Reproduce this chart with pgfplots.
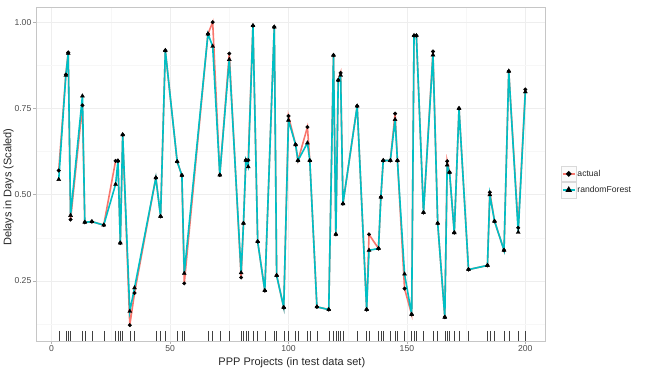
\documentclass[border=0pt]{standalone}
\usepackage{fontspec}
\setmainfont{Liberation Sans}
\usepackage{pgfplots}
\usepackage{pgfplotstable}
\pgfplotsset{compat=1.18}
\definecolor{gred}{HTML}{F8766D}
\definecolor{gteal}{HTML}{00BFC4}

\pgfplotstableread{
x act rf
3 0.570 0.544
6 0.848 0.846
7 0.912 0.910
8 0.428 0.440
13 0.759 0.786
14 0.420 0.420
17 0.422 0.422
22 0.412 0.412
27 0.598 0.530
28 0.598 0.598
29 0.360 0.360
30 0.674 0.674
33 0.122 0.162
35 0.215 0.230
44 0.549 0.549
46 0.437 0.437
48 0.918 0.918
53 0.596 0.596
55 0.556 0.556
56 0.243 0.272
66 0.966 0.966
68 1.000 0.930
71 0.557 0.557
75 0.909 0.892
80 0.260 0.274
81 0.417 0.417
82 0.600 0.600
83 0.600 0.581
85 0.990 0.990
87 0.364 0.364
90 0.222 0.222
94 0.986 0.986
95 0.266 0.266
98 0.173 0.173
100 0.728 0.716
103 0.645 0.645
104 0.599 0.599
108 0.696 0.650
109 0.599 0.599
112 0.175 0.175
117 0.167 0.167
119 0.904 0.904
120 0.385 0.385
121 0.832 0.832
122 0.853 0.846
123 0.474 0.474
129 0.757 0.757
133 0.167 0.167
134 0.385 0.339
138 0.344 0.344
139 0.493 0.493
140 0.599 0.599
143 0.599 0.599
145 0.735 0.718
146 0.599 0.599
149 0.228 0.270
152 0.153 0.153
153 0.961 0.961
154 0.961 0.961
157 0.448 0.448
161 0.915 0.905
163 0.417 0.417
166 0.145 0.145
167 0.597 0.586
168 0.565 0.565
170 0.390 0.390
172 0.750 0.750
176 0.283 0.283
184 0.295 0.295
185 0.507 0.500
187 0.423 0.423
191 0.339 0.339
193 0.858 0.858
197 0.404 0.391
200 0.805 0.798
}\data

\begin{document}
\begin{tikzpicture}
\useasboundingbox (-36pt,-32pt) rectangle (613pt,341pt);
\begin{axis}[
  width=509pt, height=334pt, scale only axis,
  xmin=-6.6, xmax=208.3, ymin=0.076, ymax=1.044,
  xtick={0,50,100,150,200},
  ytick={0.25,0.5,0.75,1.0},
  yticklabels={0.25,0.50,0.75,1.00},
  minor xtick={25,75,125,175},
  minor ytick={0.125,0.375,0.625,0.875},
  grid=both,
  major grid style={gray!13, line width=0.5pt},
  minor grid style={gray!6, line width=0.4pt},
  axis line style={gray!45, line width=0.7pt},
  tick align=outside, xtick pos=bottom, ytick pos=left,
  major tick length=3pt, minor tick length=0pt,
  tick style={gray!60, line width=0.5pt},
  /pgf/number format/assume math mode=true,
  tick label style={font=\fontsize{8.6}{10}\selectfont, text=black!70},
  xticklabel style={inner sep=1.5pt},
  yticklabel style={inner sep=1.5pt},
  xlabel={PPP Projects (in test data set)},
  ylabel={Delays in Days (Scaled)},
  xlabel style={at={(axis description cs:0.5026,-0.066)}, anchor=center, font=\fontsize{11}{13}\selectfont, text=black!85},
  ylabel style={at={(axis description cs:-0.054,0.461)}, anchor=center, font=\fontsize{11}{13}\selectfont, text=black!85},
  legend image code/.code={%
    \draw[gray!30, fill=gray!3, line width=0.5pt] (0pt,-7.8pt) rectangle (15pt,7.8pt);
    \draw[mark repeat=2, mark phase=2, #1] plot coordinates {(1.5pt,0pt) (7.5pt,0pt) (13.5pt,0pt)};
  },
  legend style={at={(axis description cs:1.031,0.525)}, anchor=north west, draw=none, fill=none,
    inner sep=0pt, row sep=0pt, font=\fontsize{8.6}{10}\selectfont,
    nodes={inner sep=1pt, text=black!85}},
  legend cell align=left,
]
\addplot[forget plot, only marks, mark=|, mark size=5pt, mark options={black!75, line width=0.45pt}] table[x=x, y expr=0.0905]{\data};
\addplot[forget plot, gred, line width=1.6pt, no marks] table[x=x,y=act]{\data};
\addplot[forget plot, gteal, line width=1.6pt, no marks] table[x=x,y=rf]{\data};
\addplot[forget plot, only marks, mark=*, mark size=1.8pt, black] table[x=x,y=act]{\data};
\addplot[forget plot, only marks, mark=triangle*, mark size=2.3pt, black] table[x=x,y=rf]{\data};
\addlegendimage{gred, line width=1.6pt, mark=*, mark options={black, fill=black, mark size=1.8pt, solid}}
\addlegendentry{actual}
\addlegendimage{gteal, line width=1.6pt, mark=triangle*, mark options={black, fill=black, mark size=2.3pt, solid}}
\addlegendentry{randomForest}
\node[anchor=base west, inner sep=0pt, font=\fontsize{11}{13}\selectfont, text=black!85] at (axis description cs:1.031,0.552) {type};
\end{axis}
\end{tikzpicture}
\end{document}
